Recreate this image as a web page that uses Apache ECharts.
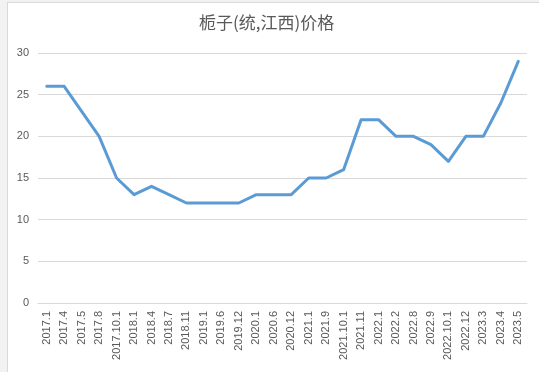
<!DOCTYPE html>
<html><head><meta charset="utf-8">
<script src="https://cdn.jsdelivr.net/npm/echarts@6/dist/echarts.min.js"></script>
<style>
html,body{margin:0;padding:0;background:#f2f2f2;width:539px;height:372px;overflow:hidden;}
#c{position:absolute;left:7px;top:2px;width:532px;height:370px;background:#fff;border-left:1px solid #d9d9d9;border-top:1px solid #d9d9d9;box-sizing:border-box;}
</style></head>
<body><div id="c"></div>
<script>
const titleText = '栀子(统,江西)价格';
const categories = ['2017.1','2017.4','2017.5','2017.8','2017.10.1','2018.1','2018.4','2018.7','2018.11','2019.1','2019.6','2019.12','2020.1','2020.6','2020.12','2021.1','2021.9','2021.10.1','2021.11','2022.1','2022.2','2022.8','2022.9','2022.10.1','2022.12','2023.3','2023.4','2023.5'];
const prices = [26,26,23,20,15,13,14,13,12,12,12,12,13,13,13,15,15,16,22,22,20,20,19,17,20,20,24,29];
const yTicks = [0,5,10,15,20,25,30];

const chart = echarts.init(document.getElementById('c'));
chart.setOption({
  animation:false,
  title:{text:titleText,top:6,left:186,textStyle:{fontFamily:'Noto Sans CJK SC',fontSize:17,fontWeight:'normal',color:'#595959'}},
  grid:{left:30,right:12,top:50,bottom:69},
  xAxis:{type:'category',data:categories,boundaryGap:true,
    axisLine:{lineStyle:{color:'#d9d9d9'}},axisTick:{show:false},
    axisLabel:{rotate:90,interval:0,fontSize:11,color:'#595959',fontFamily:'Liberation Sans',margin:8}},
  yAxis:{type:'value',min:yTicks[0],max:yTicks[yTicks.length-1],interval:5,
    axisLine:{show:false},axisTick:{show:false},
    splitLine:{lineStyle:{color:'#d9d9d9'}},
    axisLabel:{fontSize:11,color:'#595959',fontFamily:'Liberation Sans',margin:9}},
  series:[{type:'line',data:prices,showSymbol:false,symbol:'none',
    lineStyle:{color:'#5b9bd5',width:3,cap:'round',join:'round'}}]
});
</script></body></html>
